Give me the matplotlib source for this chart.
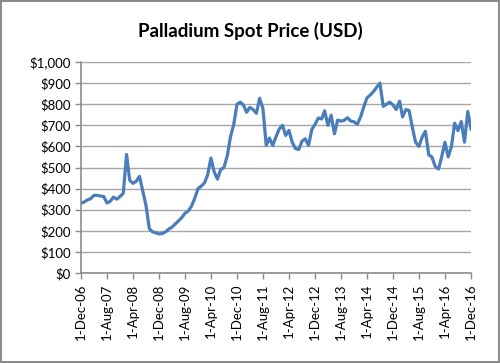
import pandas as pd
import matplotlib
matplotlib.use('Agg')
import matplotlib.pyplot as plt
from matplotlib.ticker import FuncFormatter

# monthly spot price, Dec-2006 .. Dec-2016
prices = [330, 337, 347, 352, 368, 368, 365, 363, 332, 340,
          360, 350, 362, 378, 562, 440, 425, 435, 458, 390,
          320, 210, 195, 190, 185, 187, 195, 208, 217, 232,
          247, 262, 283, 294, 317, 355, 400, 412, 428, 465,
          545, 480, 445, 490, 500, 555, 645, 705, 800, 810,
          795, 762, 785, 775, 757, 828, 780, 605, 640, 604,
          646, 683, 700, 652, 676, 620, 590, 585, 625, 636,
          605, 680, 705, 735, 730, 769, 700, 748, 660, 725,
          720, 724, 736, 720, 717, 705, 740, 785, 830, 843,
          860, 880, 900, 790, 800, 810, 797, 775, 815, 740,
          775, 770, 690, 620, 600, 645, 672, 560, 550, 505,
          493, 550, 620, 550, 600, 710, 675, 718, 620, 766,
          683]
dates = pd.date_range('2006-12-01', periods=len(prices), freq='MS')
tick_dates = dates[::8]
tick_labels = ['1-' + d.strftime('%b-%y') for d in tick_dates]
y_ticks = list(range(0, 1001, 100))

plt.rcParams['font.family'] = ['Lato', 'DejaVu Sans']

fig = plt.figure(figsize=(5, 3.63), dpi=100, edgecolor='#8c8c8c', linewidth=1.5)
ax = fig.add_axes([0.162, 0.248, 0.78, 0.581])

ax.plot(dates, prices, color='#4a7ebb', linewidth=2.3, solid_joinstyle='round')

ax.set_xlim(dates[0], dates[-1])
ax.set_ylim(0, 1000)
ax.set_yticks(y_ticks)
ax.yaxis.set_major_formatter(FuncFormatter(lambda v, p: '${:,.0f}'.format(v)))
ax.set_xticks(tick_dates)
ax.set_xticklabels(tick_labels, rotation=90)
ax.tick_params(labelsize=9.5, colors='#8c8c8c', labelcolor='black', length=4, width=1)

ax.grid(axis='y', color='#a6a6a6', linewidth=1)
ax.set_axisbelow(True)
for s in ['top', 'right']:
    ax.spines[s].set_visible(False)
for s in ['left', 'bottom']:
    ax.spines[s].set_color('#8c8c8c')
    ax.spines[s].set_linewidth(1.2)

fig.text(0.5, 0.915, 'Palladium Spot Price (USD)', ha='center', va='center',
         fontsize=13.5, fontweight='bold')

fig.savefig('out.png', dpi=100, edgecolor=fig.get_edgecolor())
